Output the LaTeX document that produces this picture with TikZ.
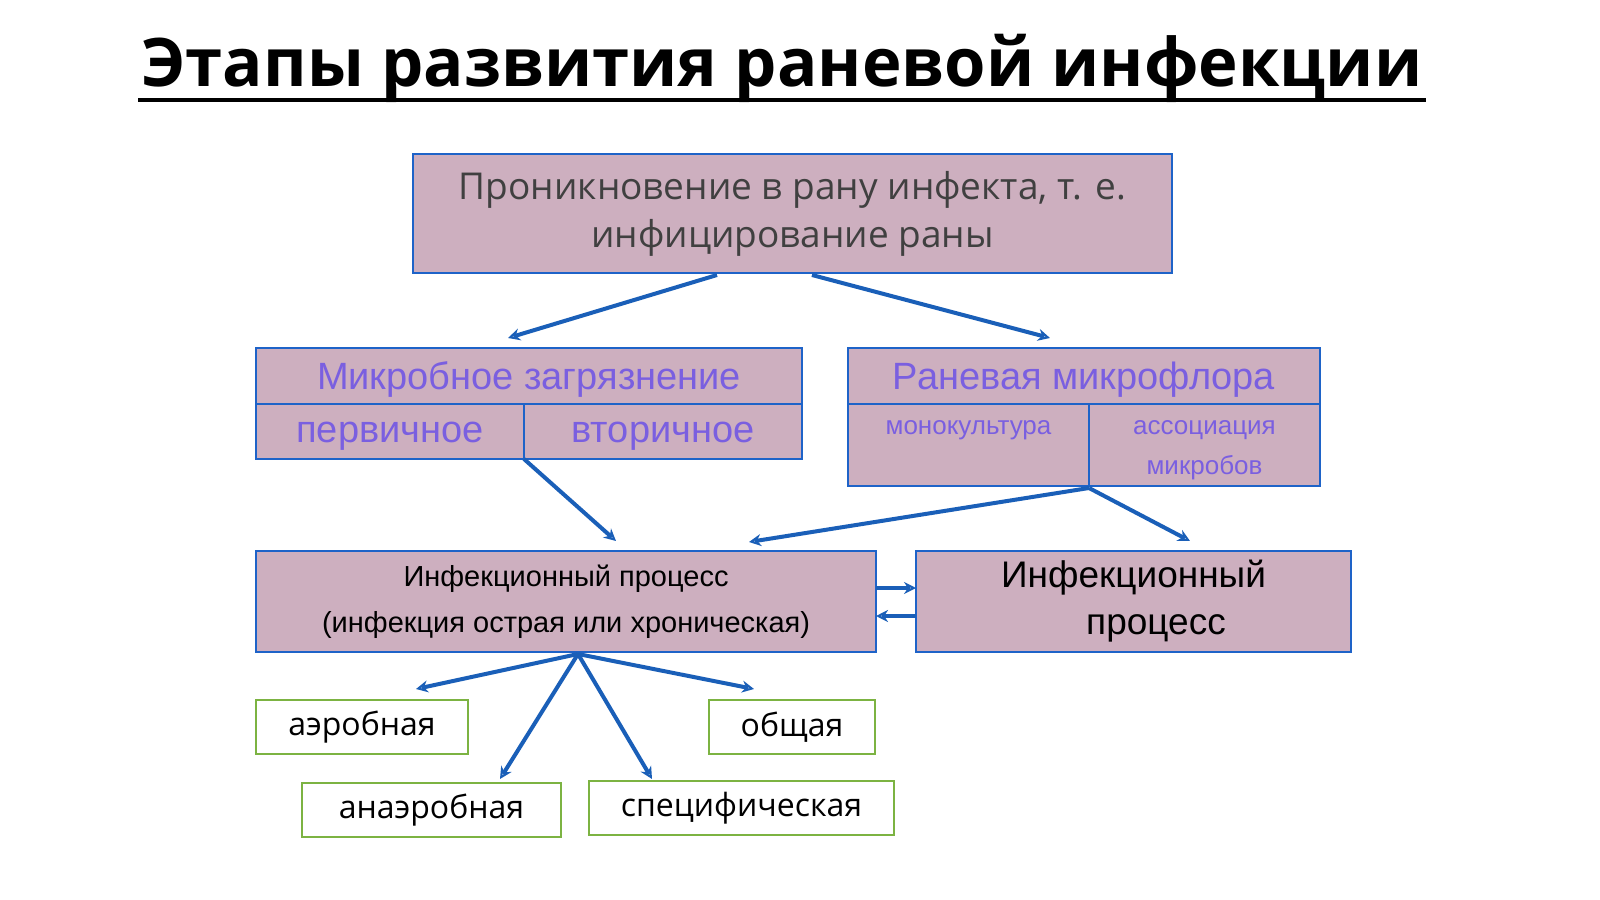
\documentclass[tikz,border=0pt]{standalone}
\usepackage{fontspec}
\setmainfont{Liberation Sans}
\newfontfamily\osans{Open Sans}
\usetikzlibrary{arrows.meta}
\definecolor{fillc}{HTML}{CDAFBF}
\definecolor{bordc}{HTML}{1E63C8}
\definecolor{purp}{HTML}{7A5FE0}
\definecolor{grn}{HTML}{7CB342}
\definecolor{arr}{HTML}{1A5FB8}
\begin{document}
\begin{tikzpicture}[x=1pt,y=-1pt,
  box/.style={draw=bordc,line width=2.5pt,fill=fillc,inner sep=0pt,outer sep=0pt},
  gbox/.style={draw=grn,line width=2pt,fill=white,inner sep=0pt,outer sep=0pt,font=\osans\fontsize{32}{36}\selectfont},
  ptxt/.style={text=purp,font=\fontsize{38}{40}\selectfont},
  ar/.style={draw=arr,line width=4pt,-{Stealth[length=12pt,width=12pt,open,line width=2pt]}}]
\useasboundingbox[fill=white] (0,0) rectangle (1600,899);
\node (title) at (782,68) {\osans\bfseries\fontsize{67}{70}\selectfont Этапы развития раневой инфекции};
\draw[line width=3.5pt] (138,100) -- (1426,100);
% top
\node[box,minimum width=759pt,minimum height=119pt,align=center,text=black!75,font=\osans\fontsize{37}{48}\selectfont] (top) at (792.5,213.5) {Проникновение в рану инфекта, т. е.\\инфицирование раны};
% mikro
\node[box,minimum width=546pt,minimum height=56pt] (mik) at (529,376) {};
\node[ptxt] (mikt) at (529,380) {Микробное загрязнение};
\node[box,minimum width=268pt,minimum height=55pt] (perv) at (390,431.5) {};
\node[ptxt] (pervt) at (390,436) {первичное};
\node[box,minimum width=278pt,minimum height=55pt] (vtor) at (663,431.5) {};
\node[ptxt] (vtort) at (663,436) {вторичное};
% raneva
\node[box,minimum width=472pt,minimum height=56pt] (ran) at (1084,376) {};
\node[ptxt] (rant) at (1084,380) {Раневая микрофлора};
\node[box,minimum width=241pt,minimum height=82pt,anchor=north] (mono) at (968.5,404) {};
\node[text=purp,font=\fontsize{26}{30}\selectfont] (monot) at (968.5,430) {монокультура};
\node[box,minimum width=231pt,minimum height=82pt,anchor=north] (assoc) at (1204.5,404) {};
\node[text=purp,align=center,font=\fontsize{26}{40}\selectfont] (assoct) at (1204.5,450) {ассоциация\\микробов};
% process
\node[box,minimum width=620pt,minimum height=101pt,align=center,font=\fontsize{29}{46}\selectfont] (proc) at (566,601.5) {Инфекционный процесс\\(инфекция острая или хроническая)};
\node[box,minimum width=435pt,minimum height=101pt,align=center,font=\fontsize{37}{47}\selectfont] (proc2) at (1133.5,601.5) {Инфекционный\\\hspace*{45pt}процесс};
% green
\node[gbox,minimum width=212pt,minimum height=54pt] (aer) at (362,727) {аэробная};
\node[gbox,minimum width=166pt,minimum height=54pt] (obs) at (792,727) {общая};
\node[gbox,minimum width=259pt,minimum height=54pt] (anaer) at (431.5,810) {анаэробная};
\node[gbox,minimum width=305pt,minimum height=54pt] (spec) at (741.5,808) {специфическая};
% arrow coordinates
\coordinate (t1) at (717,275); \coordinate (t2) at (812,275);
\coordinate (e1) at (508,338); \coordinate (e2) at (1050,338);
\coordinate (v1) at (524,459); \coordinate (p1) at (616,541);
\coordinate (r1) at (1089,488); \coordinate (p2) at (749,542); \coordinate (p3) at (1190,541);
\coordinate (q) at (578,654);
\coordinate (g1) at (416,689); \coordinate (g2) at (500,779);
\coordinate (g3) at (652,779); \coordinate (g4) at (754,689);
\draw[ar] (t1) -- (e1);
\draw[ar] (t2) -- (e2);
\draw[ar] (v1) -- (p1);
\draw[ar] (r1) -- (p2);
\draw[ar] (r1) -- (p3);
\draw[ar] (proc.east |- 0,588) -- (proc2.west |- 0,588);
\draw[ar] (proc2.west |- 0,616) -- (proc.east |- 0,616);
\draw[ar] (q) -- (g1);
\draw[ar] (q) -- (g2);
\draw[ar] (q) -- (g3);
\draw[ar] (q) -- (g4);
\end{tikzpicture}
\end{document}
